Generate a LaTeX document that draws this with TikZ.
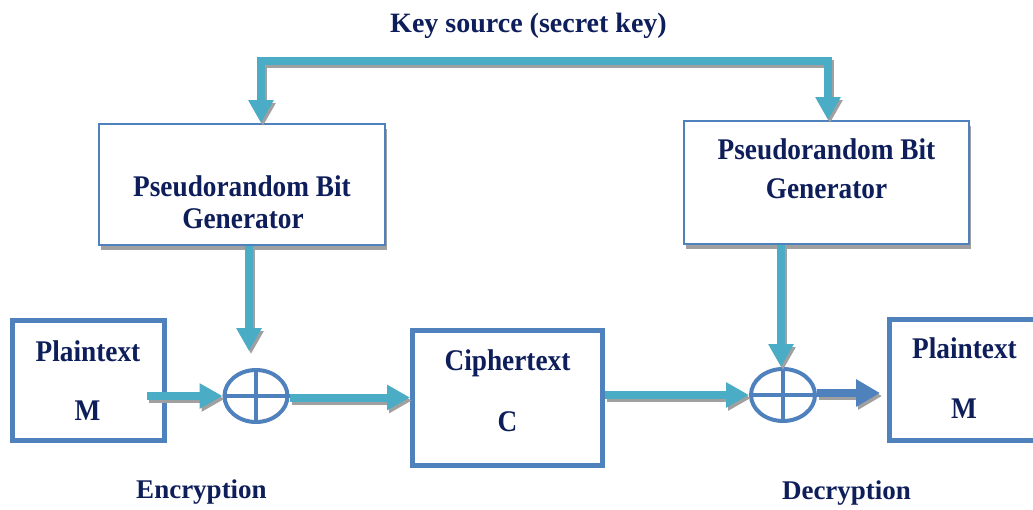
\documentclass[tikz,border=0pt]{standalone}
\usepackage{fontspec}
\setmainfont{Liberation Serif}
\newfontfamily\boxfont{Liberation Serif}[FakeStretch=0.91]
\usetikzlibrary{arrows.meta,shapes.geometric}

\definecolor{keyteal}{RGB}{75,172,198}
\definecolor{boxblue}{RGB}{79,129,189}
\definecolor{ink}{RGB}{14,30,90}
\definecolor{shade}{RGB}{160,160,160}

\tikzset{
  thinbox/.style={draw=boxblue, line width=2pt, fill=white, inner sep=0pt},
  thickbox/.style={draw=boxblue, line width=5pt, fill=white, inner sep=0pt},
  boxshade/.style={fill=shade, draw=none, inner sep=0pt},
  xorgate/.style={ellipse, draw=boxblue, line width=4pt, fill=white, inner sep=0pt},
  xorbar/.style={draw=boxblue, line width=3.5pt},
  flow/.style={draw=keyteal, line width=8pt,
    -{Triangle[length=23pt,width=24pt]}},
  flowboth/.style={draw=keyteal, line width=8pt,
    {Triangle[length=23pt,width=24pt]}-{Triangle[length=23pt,width=24pt]}},
  outflow/.style={draw=boxblue, line width=8pt,
    -{Triangle[length=24pt,width=26pt]}},
  flowshade/.style={draw=shade, transform canvas={shift={(2pt,-3pt)}}},
  boxtext/.style={font=\boxfont\bfseries\fontsize{30}{36}\selectfont,
    text=ink, anchor=base, inner sep=0pt},
  headtext/.style={font=\bfseries\fontsize{28}{34}\selectfont,
    text=ink, anchor=base, inner sep=0pt},
  sidetext/.style={font=\bfseries\fontsize{27}{32}\selectfont,
    text=ink, anchor=base, inner sep=0pt},
}

\begin{document}
\begin{tikzpicture}[x=1pt, y=-1pt]
  \useasboundingbox (0,0) rectangle (1033,509);
  \clip (0,0) rectangle (1033,509);
  \fill[white] (0,0) rectangle (1033,509);

  % generator boxes with their soft lower shadow
  \node[boxshade, minimum width=286pt, minimum height=121pt] at (244,189) {};
  \node[boxshade, minimum width=285pt, minimum height=123pt] at (828.5,187) {};
  \node[thinbox, minimum width=286pt, minimum height=121pt] (prbgL) at (242,184.5) {};
  \node[thinbox, minimum width=285pt, minimum height=123pt] (prbgR) at (826.5,182.5) {};

  % message boxes
  \node[thickbox, minimum width=152pt, minimum height=120pt] (ptL) at (88.5,380.5) {};
  \node[thickbox, minimum width=190pt, minimum height=134.5pt] (ct) at (507.5,397.75) {};
  \node[thickbox, minimum width=155.5pt, minimum height=121pt] (ptR) at (967.25,380) {};

  % xor gates
  \node[xorgate, minimum width=63pt, minimum height=52pt] (xorL) at (256,396) {};
  \node[xorgate, minimum width=64pt, minimum height=52pt] (xorR) at (783,395) {};
  \foreach \g in {xorL,xorR}{
    \draw[xorbar] (\g.north) -- (\g.south) (\g.west) -- (\g.east);
  }

  % free ends of the connectors
  \coordinate (keyL) at (261,61);
  \coordinate (keyR) at (828,61);
  \coordinate (dropL) at (249,351);
  \coordinate (dropR) at (781,367);
  \coordinate (feedL) at (147,396);

  % key distribution line
  \draw[flowboth, flowshade] (keyL |- prbgL.north) -- (keyL) -- (keyR) -- (keyR |- prbgR.north);
  \draw[flowboth] (keyL |- prbgL.north) -- (keyL) -- (keyR) -- (keyR |- prbgR.north);

  % keystream into the gates
  \draw[flow, flowshade] (prbgL.south -| dropL) -- (dropL);
  \draw[flow] (prbgL.south -| dropL) -- (dropL);
  \draw[flow, flowshade] (prbgR.south -| dropR) -- (dropR);
  \draw[flow] (prbgR.south -| dropR) -- (dropR);

  % encryption path
  \draw[flow, flowshade] (feedL) -- (feedL -| xorL.west);
  \draw[flow] (feedL) -- (feedL -| xorL.west);
  \draw[flow, flowshade] ([yshift=-1.5pt]xorL.east) -- ([yshift=-1.5pt]xorL.east -| ct.west);
  \draw[flow] ([yshift=-1.5pt]xorL.east) -- ([yshift=-1.5pt]xorL.east -| ct.west);

  % decryption path
  \draw[flow, flowshade] (ct.east |- xorR.west) -- (xorR.west);
  \draw[flow] (ct.east |- xorR.west) -- (xorR.west);
  \draw[outflow, flowshade] ([yshift=2pt]xorR.east) -- ([xshift=-7pt,yshift=2pt]ptR.west |- xorR.east);
  \draw[outflow] ([yshift=2pt]xorR.east) -- ([xshift=-7pt,yshift=2pt]ptR.west |- xorR.east);

  % labels
  \node[headtext] (title) at (528.5,32) {Key source (secret key)};
  \node[boxtext] (gL1) at (242,196) {Pseudorandom Bit};
  \node[boxtext] (gL2) at (243,228) {Generator};
  \node[boxtext] (gR1) at (826.5,159) {Pseudorandom Bit};
  \node[boxtext] (gR2) at (826.5,198) {Generator};
  \node[boxtext] (mL1) at (88,361) {Plaintext};
  \node[boxtext] (mL2) at (87.5,420) {M};
  \node[boxtext] (c1) at (507.5,370) {Ciphertext};
  \node[boxtext] (c2) at (507.5,431) {C};
  \node[boxtext] (mR1) at (964.5,358) {Plaintext};
  \node[boxtext] (mR2) at (964,418) {M};
  \node[sidetext] (enc) at (201.5,498) {Encryption};
  \node[sidetext] (dec) at (846.5,499) {Decryption};
\end{tikzpicture}
\end{document}
